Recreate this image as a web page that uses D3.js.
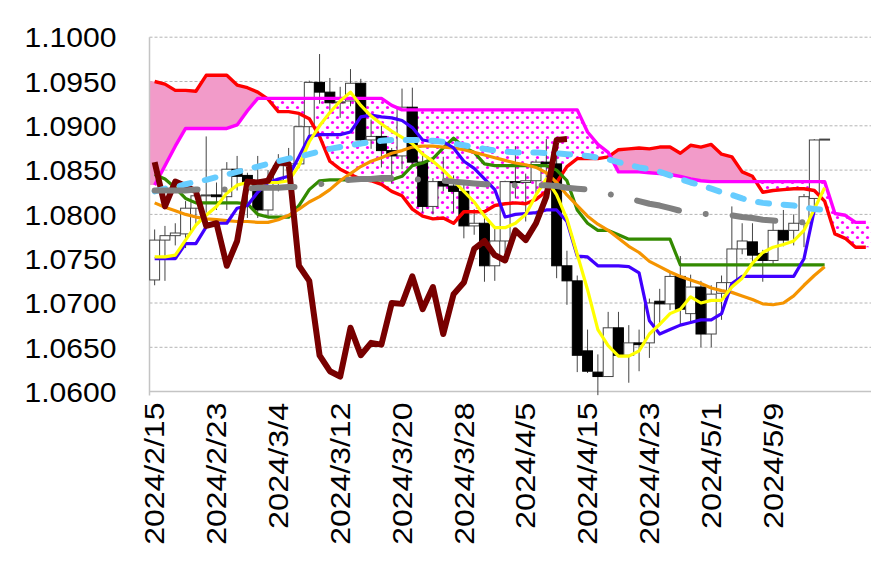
<!DOCTYPE html>
<html><head><meta charset="utf-8">
<script src="https://cdn.jsdelivr.net/npm/d3@7/dist/d3.min.js"></script>
<style>body{margin:0;background:#fff}svg{display:block}</style>
</head><body><svg id="c" width="874" height="577"></svg>
<script>
const categories = ["2024/2/15","2024/2/16","2024/2/19","2024/2/20","2024/2/21","2024/2/22","2024/2/23","2024/2/26","2024/2/27","2024/2/28","2024/2/29","2024/3/1","2024/3/4","2024/3/5","2024/3/6","2024/3/7","2024/3/8","2024/3/11","2024/3/12","2024/3/13","2024/3/14","2024/3/15","2024/3/18","2024/3/19","2024/3/20","2024/3/21","2024/3/22","2024/3/25","2024/3/26","2024/3/27","2024/3/28","2024/3/29","2024/4/1","2024/4/2","2024/4/3","2024/4/4","2024/4/5","2024/4/8","2024/4/9","2024/4/10","2024/4/11","2024/4/12","2024/4/15","2024/4/16","2024/4/17","2024/4/18","2024/4/19","2024/4/22","2024/4/23","2024/4/24","2024/4/25","2024/4/26","2024/4/29","2024/4/30","2024/5/1","2024/5/2","2024/5/3","2024/5/6","2024/5/7","2024/5/8","2024/5/9","2024/5/10","2024/5/13","2024/5/14","2024/5/15","2024/5/16","2024/5/17","2024/5/20","2024/5/21","2024/5/22"];
const xTickLabels = ["2024/2/15","2024/2/23","2024/3/4","2024/3/12","2024/3/20","2024/3/28","2024/4/5","2024/4/15","2024/4/23","2024/5/1","2024/5/9"];
const yTickValues = [1.06,1.065,1.07,1.075,1.08,1.085,1.09,1.095,1.10];

const open  = [1.0726,1.0771,1.0776,1.0778,1.0807,1.0821,1.0822,1.0820,1.0851,1.0844,1.0836,1.0805,1.0838,1.0855,1.0857,1.0899,1.0949,1.0938,1.0926,1.0928,1.0948,1.0884,1.0888,1.0872,1.0866,1.0921,1.0859,1.0809,1.0837,1.0832,1.0826,1.0787,1.0790,1.0742,1.0770,1.0837,1.0836,1.0838,1.0859,1.0857,1.0742,1.0725,1.0646,1.0622,1.0617,1.0672,1.0641,1.0655,1.0655,1.0702,1.0699,1.0730,1.0688,1.0718,1.0665,1.0711,1.0723,1.0761,1.0769,1.0756,1.0748,1.0782,1.0782,1.0790,1.0818,1.0884];
const high  = [1.0783,1.0787,1.0790,1.0815,1.0824,1.0888,1.0836,1.0859,1.0866,1.0847,1.0866,1.0850,1.0868,1.0875,1.0912,1.0951,1.0981,1.0954,1.0944,1.0964,1.0953,1.0907,1.0900,1.0875,1.0942,1.0943,1.0869,1.0841,1.0865,1.0844,1.0838,1.0806,1.0799,1.0787,1.0838,1.0877,1.0846,1.0862,1.0885,1.0867,1.0759,1.0731,1.0670,1.0642,1.0690,1.0690,1.0675,1.0670,1.0705,1.0716,1.0735,1.0753,1.0732,1.0725,1.0720,1.0731,1.0809,1.0790,1.0790,1.0760,1.0791,1.0805,1.0800,1.0823,1.0885,1.0885];
const low   = [1.0720,1.0725,1.0765,1.0762,1.0787,1.0802,1.0805,1.0805,1.0827,1.0796,1.0796,1.0797,1.0826,1.0837,1.0852,1.0884,1.0925,1.0917,1.0909,1.0922,1.0877,1.0874,1.0853,1.0835,1.0851,1.0855,1.0802,1.0800,1.0826,1.0802,1.0773,1.0777,1.0724,1.0725,1.0757,1.0818,1.0792,1.0824,1.0842,1.0728,1.0698,1.0622,1.0621,1.0596,1.0617,1.0639,1.0610,1.0623,1.0638,1.0674,1.0692,1.0675,1.0677,1.0650,1.0650,1.0681,1.0722,1.0755,1.0745,1.0724,1.0742,1.0764,1.0765,1.0763,1.0803,1.0884];
const close = [1.0771,1.0776,1.0779,1.0807,1.0821,1.0822,1.0820,1.0851,1.0843,1.0836,1.0805,1.0838,1.0855,1.0857,1.0899,1.0949,1.0938,1.0926,1.0927,1.0948,1.0884,1.0888,1.0872,1.0866,1.0921,1.0859,1.0809,1.0837,1.0832,1.0826,1.0787,1.0790,1.0742,1.0770,1.0837,1.0836,1.0838,1.0859,1.0857,1.0742,1.0725,1.0641,1.0623,1.0617,1.0672,1.0641,1.0655,1.0653,1.0700,1.0699,1.0730,1.0693,1.0718,1.0665,1.0710,1.0723,1.0761,1.0770,1.0754,1.0748,1.0782,1.0771,1.0790,1.0820,1.0884,1.0885];

const tenkan = [1.0752,1.0752,1.0754,1.0771,1.0788,1.0799,1.0809,1.0824,1.0833,1.0836,1.0835,1.0836,1.0836,1.0838,1.0855,1.0882,1.0900,1.0915,1.0928,1.0938,1.0923,1.0911,1.0902,1.0894,1.0887,1.0880,1.0868,1.0860,1.0850,1.0838,1.0826,1.0814,1.0798,1.0785,1.0785,1.0790,1.0800,1.0822,1.0840,1.0822,1.0795,1.0755,1.0715,1.0670,1.0652,1.0640,1.0640,1.0646,1.0665,1.0676,1.0688,1.0693,1.0707,1.0700,1.0703,1.0703,1.0718,1.0728,1.0745,1.0757,1.0763,1.0766,1.0770,1.0782,1.0806,1.0830];
const kijun = [1.0750,1.0750,1.0750,1.0767,1.0767,1.0786,1.0790,1.0790,1.0807,1.0810,1.0825,1.0836,1.0840,1.0843,1.0865,1.0888,1.0890,1.0890,1.0890,1.0893,1.0910,1.0912,1.0910,1.0909,1.0906,1.0898,1.0884,1.0882,1.0882,1.0875,1.0860,1.0852,1.0840,1.0828,1.0797,1.0800,1.0801,1.0802,1.0805,1.0805,1.0792,1.0753,1.0752,1.0742,1.0742,1.0742,1.0741,1.0734,1.0680,1.0665,1.0670,1.0675,1.0678,1.0681,1.0681,1.0688,1.0722,1.0730,1.0730,1.0730,1.0730,1.0730,1.0730,1.0750,1.0805];
const greenLine = [1.0845,1.0840,1.0830,1.0818,1.0813,1.0813,1.0813,1.0813,1.0813,1.0812,1.0800,1.0797,1.0797,1.0797,1.0810,1.0828,1.0838,1.0839,1.0839,1.0839,1.0839,1.0839,1.0839,1.0839,1.0843,1.0855,1.0858,1.0863,1.0875,1.0886,1.0876,1.0870,1.0857,1.0855,1.0855,1.0855,1.0855,1.0855,1.0855,1.0850,1.0838,1.0805,1.0790,1.0782,1.0782,1.0777,1.0772,1.0772,1.0772,1.0772,1.0772,1.0743,1.0743,1.0743,1.0743,1.0743,1.0743,1.0743,1.0743,1.0743,1.0743,1.0743,1.0743,1.0743,1.0743,1.0743];
const orangeLine = [1.0813,1.0808,1.0804,1.0800,1.0797,1.0795,1.0794,1.0793,1.0792,1.0792,1.0791,1.0791,1.0794,1.0799,1.0806,1.0814,1.0820,1.0828,1.0838,1.0846,1.0854,1.0860,1.0864,1.0869,1.0872,1.0876,1.0877,1.0877,1.0876,1.0875,1.0873,1.0870,1.0867,1.0864,1.0861,1.0858,1.0856,1.0853,1.0847,1.0836,1.0822,1.0810,1.0798,1.0789,1.0782,1.0773,1.0764,1.0757,1.0747,1.0741,1.0735,1.0730,1.0726,1.0722,1.0717,1.0714,1.0712,1.0708,1.0704,1.0699,1.0698,1.0700,1.0708,1.0720,1.0731,1.0741];
const skyLine = [1.0826,1.0829,1.0831,1.0834,1.0837,1.0839,1.0842,1.0845,1.0848,1.0851,1.0854,1.0857,1.0860,1.0863,1.0865,1.0868,1.0871,1.0874,1.0876,1.0878,1.0880,1.0882,1.0883,1.0884,1.0884,1.0884,1.0884,1.0883,1.0882,1.0880,1.0878,1.0876,1.0874,1.0872,1.0871,1.0870,1.0870,1.0870,1.0869,1.0869,1.0868,1.0867,1.0866,1.0864,1.0862,1.0859,1.0856,1.0853,1.0851,1.0848,1.0844,1.0840,1.0836,1.0833,1.0829,1.0825,1.0822,1.0818,1.0815,1.0813,1.0812,1.0811,1.0810,1.0808,1.0806,1.0805];
const grayLine = [1.0827,1.0827,1.0827,1.0827,1.0828,1.0828,1.0828,1.0828,1.0829,1.0829,1.0830,1.0830,1.0830,1.0831,1.0831,1.0833,1.0834,1.0836,1.0838,1.0839,1.0840,1.0840,1.0841,1.0841,1.0841,1.0840,1.0839,1.0838,1.0838,1.0837,1.0836,1.0835,1.0834,1.0834,1.0833,1.0833,1.0833,1.0833,1.0833,1.0832,1.0830,1.0829,1.0828,1.0826,1.0823,1.0821,1.0818,1.0815,1.0812,1.0810,1.0807,1.0804,1.0802,1.0801,1.0800,1.0800,1.0799,1.0797,1.0796,1.0794,1.0793,1.0792,1.0792,1.0791];
const chikou = [1.0859,1.0809,1.0837,1.0832,1.0826,1.0787,1.0790,1.0742,1.0770,1.0837,1.0836,1.0838,1.0859,1.0857,1.0742,1.0725,1.0641,1.0623,1.0617,1.0672,1.0641,1.0655,1.0653,1.0700,1.0699,1.0730,1.0693,1.0718,1.0665,1.0710,1.0723,1.0761,1.0770,1.0754,1.0748,1.0782,1.0771,1.0790,1.0820,1.0884,1.0885];
const senkouA = [1.0950,1.0947,1.0940,1.0940,1.0939,1.0957,1.0957,1.0957,1.0946,1.0943,1.0938,1.0930,1.0916,1.0916,1.0914,1.0908,1.0888,1.0860,1.0851,1.0845,1.0840,1.0838,1.0834,1.0826,1.0821,1.0806,1.0798,1.0795,1.0796,1.0790,1.0803,1.0803,1.0803,1.0810,1.0812,1.0813,1.0812,1.0817,1.0826,1.0836,1.0854,1.0863,1.0863,1.0863,1.0865,1.0873,1.0874,1.0875,1.0874,1.0876,1.0876,1.0869,1.0878,1.0876,1.0879,1.0868,1.0865,1.0848,1.0843,1.0825,1.0827,1.0828,1.0829,1.0829,1.0827,1.0815,1.0778,1.0773,1.0763,1.0763];
const senkouB = [1.0833,1.0855,1.0877,1.0897,1.0897,1.0897,1.0897,1.0897,1.0901,1.0917,1.0931,1.0931,1.0931,1.0931,1.0931,1.0931,1.0931,1.0931,1.0931,1.0931,1.0931,1.0931,1.0931,1.0923,1.0918,1.0918,1.0918,1.0918,1.0918,1.0918,1.0918,1.0918,1.0918,1.0918,1.0918,1.0918,1.0918,1.0918,1.0918,1.0918,1.0918,1.0918,1.0893,1.0879,1.0870,1.0848,1.0848,1.0848,1.0847,1.0846,1.0845,1.0843,1.0840,1.0838,1.0837,1.0837,1.0837,1.0837,1.0837,1.0837,1.0837,1.0837,1.0837,1.0837,1.0837,1.0837,1.0801,1.0799,1.0791,1.0791];

const W = 874, H = 577;
const M = {left: 149.5, right: 871, top: 37.2, bottom: 391.6};
const FONT = "'Liberation Sans', Arial, sans-serif";
const svg = d3.select('#c');
svg.append('rect').attr('width', W).attr('height', H).attr('fill', '#fff');

const x = d3.scaleBand().domain(d3.range(categories.length)).range([M.left, M.right]).padding(0);
const bw = x.bandwidth();
const xc = i => x(i) + bw / 2;
const y = d3.scaleLinear().domain([1.06, 1.10]).range([M.bottom, M.top]);

// defs
const defs = svg.append('defs');
const pat = defs.append('pattern').attr('id', 'dots').attr('patternUnits', 'userSpaceOnUse')
  .attr('width', 10).attr('height', 10);
pat.append('rect').attr('width', 10).attr('height', 10).attr('fill', '#fff');
pat.append('circle').attr('cx', 2.5).attr('cy', 2.5).attr('r', 1.6).attr('fill', '#ff00ff');
pat.append('circle').attr('cx', 7.5).attr('cy', 7.5).attr('r', 1.6).attr('fill', '#ff00ff');

// gridlines
svg.append('g').selectAll('line').data(yTickValues.filter(v => v > 1.06)).join('line')
  .attr('x1', M.left).attr('x2', M.right).attr('y1', d => y(d)).attr('y2', d => y(d))
  .attr('stroke', '#b4b4b4').attr('stroke-width', 1).attr('stroke-dasharray', '3,2');

// cloud
const n = senkouA.length;
const cpts = [{px: M.left, a: senkouA[0], b: senkouB[0]}]
  .concat(d3.range(n).map(i => ({px: xc(i), a: senkouA[i], b: senkouB[i]})))
  .concat([{px: M.right, a: senkouA[n - 1], b: senkouB[n - 1]}]);
const between = d3.area().x(d => d.px).y0(d => y(d.a)).y1(d => y(d.b));
const aboveB = d3.area().x(d => d.px).y0(0).y1(d => y(d.b));
const belowB = d3.area().x(d => d.px).y0(H).y1(d => y(d.b));
defs.append('clipPath').attr('id', 'clipAbove').append('path').attr('d', aboveB(cpts));
defs.append('clipPath').attr('id', 'clipBelow').append('path').attr('d', belowB(cpts));
svg.append('path').attr('d', between(cpts)).attr('fill', '#f29bc9').attr('clip-path', 'url(#clipAbove)');
svg.append('path').attr('d', between(cpts)).attr('fill', 'url(#dots)').attr('clip-path', 'url(#clipBelow)');

// axes lines
svg.append('line').attr('x1', M.left).attr('x2', M.right).attr('y1', M.bottom).attr('y2', M.bottom)
  .attr('stroke', '#c4c4c4').attr('stroke-width', 1.5);
svg.append('line').attr('x1', M.left).attr('x2', M.left).attr('y1', M.top).attr('y2', M.bottom + 4)
  .attr('stroke', '#c4c4c4').attr('stroke-width', 1.5);

// candles
const cg = svg.append('g');
const cw = bw * 0.96;
d3.range(open.length).forEach(i => {
  cg.append('line').attr('x1', xc(i)).attr('x2', xc(i)).attr('y1', y(high[i])).attr('y2', y(low[i]))
    .attr('stroke', '#444').attr('stroke-width', 1);
});
d3.range(open.length).forEach(i => {
  const up = close[i] >= open[i];
  const top = y(Math.max(open[i], close[i])), bot = y(Math.min(open[i], close[i]));
  cg.append('rect').attr('x', xc(i) - cw / 2).attr('y', top).attr('width', cw)
    .attr('height', Math.max(1, bot - top))
    .attr('fill', up ? '#fff' : '#000').attr('stroke', up ? '#444' : '#000').attr('stroke-width', 1);
});

// lines
function drawLine(data, color, width, dash, cap) {
  const line = d3.line().x((d, i) => xc(i)).y(d => y(d));
  const p = svg.append('path').attr('d', line(data)).attr('fill', 'none')
    .attr('stroke', color).attr('stroke-width', width)
    .attr('stroke-linejoin', 'round').attr('stroke-linecap', cap || 'butt');
  if (dash) p.attr('stroke-dasharray', dash);
  return p;
}
drawLine(senkouA, '#ff0000', 3.4);
drawLine(senkouB, '#ff00ff', 3.4);
drawLine(greenLine, '#338a00', 3.2);
drawLine(orangeLine, '#f59400', 3.2);
drawLine(kijun, '#4000ff', 3.2);
drawLine(tenkan, '#ffff00', 3.2);
drawLine(chikou, '#780000', 6, null, 'butt');
drawLine(skyLine, '#66ccff', 6, '11,14.7', 'round');
drawLine(grayLine, '#808080', 6, '43,27,0.01,27', 'round');

// y axis labels
const yAxis = d3.axisLeft(y).tickValues(yTickValues).tickFormat(d3.format('.4f')).tickSize(0).tickPadding(33);
const ya = svg.append('g').attr('transform', `translate(${M.left},0)`).call(yAxis);
ya.select('.domain').remove();
ya.selectAll('text').attr('font-family', FONT).attr('font-size', 27).attr('fill', '#000')
  .attr('dy', '0.36em').attr('textLength', 92).attr('lengthAdjust', 'spacingAndGlyphs');

// x axis labels
const xTickIdx = xTickLabels.map(l => categories.indexOf(l));
const xAxis = d3.axisBottom(x).tickValues(xTickIdx).tickFormat(i => categories[i]).tickSize(0);
const xa = svg.append('g').attr('transform', `translate(0,${M.bottom})`).call(xAxis);
xa.select('.domain').remove();
xa.selectAll('text').attr('font-family', FONT).attr('font-size', 27).attr('fill', '#000')
  .attr('transform', 'rotate(-90)').attr('x', -11).attr('y', 0).attr('dy', '0.36em')
  .style('text-anchor', 'end')
  .attr('textLength', d => categories[d].length * 15.8).attr('lengthAdjust', 'spacingAndGlyphs');
</script></body></html>
